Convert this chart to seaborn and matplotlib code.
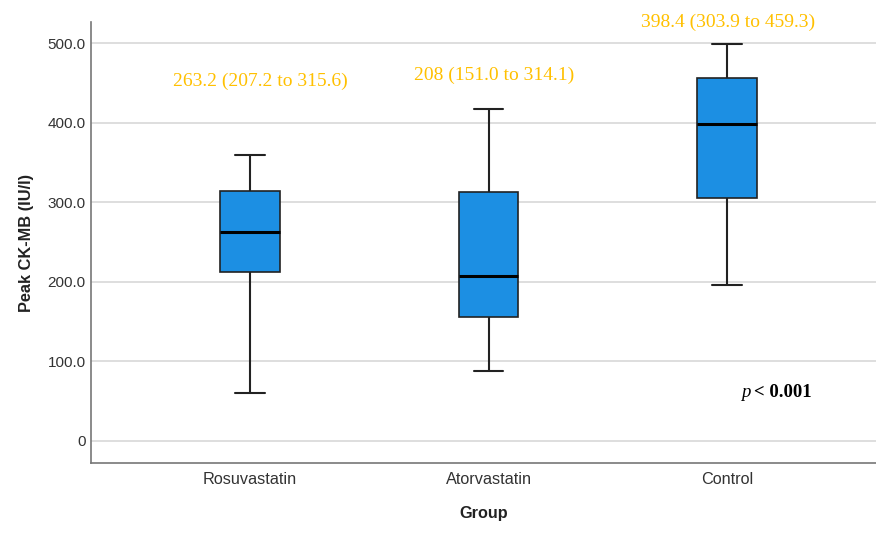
import pandas as pd
import matplotlib
matplotlib.use("Agg")
import matplotlib.pyplot as plt
import seaborn as sns

# five-number summaries (min, Q1, median, Q3, max)
groups = ["Rosuvastatin", "Atorvastatin", "Control"]
rosuvastatin = [60, 212, 263, 314, 360]
atorvastatin = [88, 156, 208, 313, 418]
control = [196, 306, 398, 457, 499]

labels = ["263.2 (207.2 to 315.6)", "208 (151.0 to 314.1)", "398.4 (303.9 to 459.3)"]

yticks = [0, 100, 200, 300, 400, 500]
ytick_labels = ["0", "100.0", "200.0", "300.0", "400.0", "500.0"]

df = pd.DataFrame({
    "Group": [g for g, vals in zip(groups, [rosuvastatin, atorvastatin, control]) for _ in vals],
    "CKMB": rosuvastatin + atorvastatin + control,
})

sns.set_style("white")
plt.rcParams["font.family"] = ["Liberation Sans", "DejaVu Sans"]

fig = plt.figure(figsize=(8.76, 5.33), dpi=100)
ax = fig.add_axes([0.104, 0.131, 0.896, 0.828])

ax.grid(axis="y", color="#d4d4d4", lw=1.1, zorder=0)
ax.set_axisbelow(True)

sns.boxplot(
    data=df, x="Group", y="CKMB", order=groups, ax=ax,
    whis=(0, 100), width=0.25, color="#1C8FE3", saturation=1,
    linewidth=1.2, linecolor="#222222",
    medianprops=dict(color="black", lw=2.2),
    capprops=dict(lw=1.5), whiskerprops=dict(lw=1.5),
    showfliers=False,
)
for patch in ax.patches:
    patch.set_facecolor("#1C8FE3")

# summary labels above each box
lab_pos = [(0.042, 452), (1.023, 460), (2.004, 527)]
for txt, (xx, yy) in zip(labels, lab_pos):
    ax.text(xx, yy, txt, ha="center", va="center", color="#FFC000",
            fontsize=14, family="Liberation Serif", clip_on=False)

ax.text(2.10, 61, "p", ha="right", va="center", fontsize=13.5,
        family="Liberation Serif", style="italic", color="black")
ax.text(2.115, 61, "< 0.001", ha="left", va="center", fontsize=13.5,
        family="Liberation Serif", fontweight="bold", color="black")

ax.set_ylim(-28, 527)
ax.set_xlim(-0.667, 2.625)
ax.set_yticks(yticks)
ax.set_yticklabels(ytick_labels)
ax.tick_params(axis="y", labelsize=11, colors="#333333", length=0, pad=4)
ax.tick_params(axis="x", labelsize=11.7, colors="#333333", length=0, pad=6)

ax.set_xlabel("Group", fontsize=11.7, fontweight="bold", color="#222222", labelpad=14)
ax.set_ylabel("Peak CK-MB (IU/l)", fontsize=11.8, fontweight="bold", color="#222222", labelpad=9.5)

for s in ["top", "right"]:
    ax.spines[s].set_visible(False)
for s in ["left", "bottom"]:
    ax.spines[s].set_color("#777777")
    ax.spines[s].set_linewidth(1.2)

fig.savefig("out.png", dpi=100)
